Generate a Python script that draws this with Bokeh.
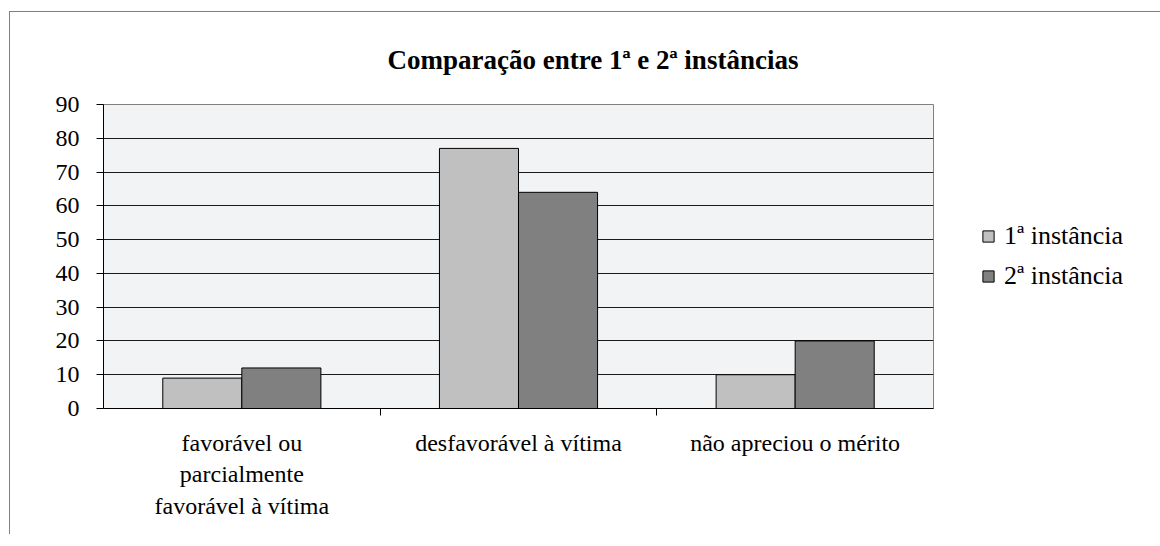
from bokeh.plotting import figure
from bokeh.models import (ColumnDataSource, Range1d, LinearAxis, CategoricalAxis,
                          FixedTicker, Legend, LegendItem, FactorRange)
from bokeh.transform import dodge
from bokeh.embed import file_html
from bokeh.resources import INLINE

# ---- data ----
categories = ["favorável ou\nparcialmente\nfavorável à vítima",
              "desfavorável à vítima",
              "não apreciou o mérito"]
series_names = ["1ª instância", "2ª instância"]
primeira = [9, 77, 10]
segunda = [12, 64, 20]
y_ticks = [0, 10, 20, 30, 40, 50, 60, 70, 80, 90]
title_text = "Comparação entre 1ª e 2ª instâncias"

FONT = "Liberation Serif"

src = ColumnDataSource(dict(cat=categories, a=primeira, b=segunda))

p = figure(x_range=FactorRange(factors=categories),
           y_range=Range1d(y_ticks[0], y_ticks[-1]),
           frame_width=830, frame_height=304,
           output_backend="svg", toolbar_location=None,
           x_axis_location=None, y_axis_location=None,
           min_border_left=93, min_border_top=92, min_border_right=215,
           min_border_bottom=126,
           background_fill_color="#f2f3f5", border_fill_color="white",
           outline_line_color="#808080",
           styles={"margin-left": "9px", "margin-top": "11px",
                   "border-left": "1px solid #808080",
                   "border-top": "1px solid #808080"})

p.title.text = title_text
p.title.align = "left"
p.title.offset = 284
p.title.text_color = "black"
p.title.text_font = FONT
p.title.text_font_size = "27px"
p.title.text_font_style = "bold"
p.title.standoff = 60

bw = 1 / 3.5
r1 = p.vbar(x=dodge("cat", -bw / 2, range=p.x_range), top="a", width=bw,
            source=src, fill_color="#c0c0c0", line_color="black", line_width=1)
r2 = p.vbar(x=dodge("cat", bw / 2, range=p.x_range), top="b", width=bw,
            source=src, fill_color="#808080", line_color="black", line_width=1)

# y axis
yax = LinearAxis(ticker=FixedTicker(ticks=y_ticks))
yax.major_label_text_font = FONT
yax.major_label_text_font_size = "24px"
yax.major_label_text_color = "black"
yax.major_tick_out = 7
yax.major_tick_in = 0
yax.minor_tick_line_color = None
yax.axis_line_color = "black"
yax.major_tick_line_color = "black"
yax.major_label_standoff = 17
p.add_layout(yax, "left")

p.xgrid.visible = False
p.ygrid.ticker = FixedTicker(ticks=y_ticks[1:-1])
p.ygrid.grid_line_color = "#1a1a1a"
p.ygrid.grid_line_width = 1

# x boundary ticks: a factor range whose factor centres fall on category edges
edges = ["e%d" % i for i in range(len(categories) + 1)]
p.extra_x_ranges = {"edges": FactorRange(factors=edges, range_padding=-0.5,
                                         range_padding_units="absolute")}
tax = CategoricalAxis(x_range_name="edges")
tax.major_label_text_font_size = "0px"
tax.major_label_text_color = None
tax.major_label_standoff = 0
tax.major_tick_out = 7
tax.major_tick_in = 0
tax.axis_line_color = "black"
tax.major_tick_line_color = "black"
p.add_layout(tax, "below")

# category labels
cax = CategoricalAxis()
cax.axis_line_color = None
cax.major_tick_line_color = None
cax.major_tick_out = 0
cax.major_tick_in = 0
cax.major_label_text_font = FONT
cax.major_label_text_font_size = "24px"
cax.major_label_text_color = "black"
cax.major_label_text_line_height = 1.23
cax.major_label_standoff = 14
p.add_layout(cax, "below")

legend = Legend(items=[LegendItem(label=series_names[0], renderers=[r1]),
                       LegendItem(label=series_names[1], renderers=[r2])],
                location="center_left", orientation="vertical")
legend.label_text_font = FONT
legend.label_text_font_size = "26px"
legend.label_text_color = "black"
legend.glyph_width = 14
legend.glyph_height = 14
legend.label_standoff = 9
legend.label_height = 26
legend.spacing = 10
legend.border_line_color = None
legend.background_fill_alpha = 0
legend.margin = 48
legend.padding = 10
p.add_layout(legend, "right")

open("out.html", "w").write(file_html(p, INLINE))
